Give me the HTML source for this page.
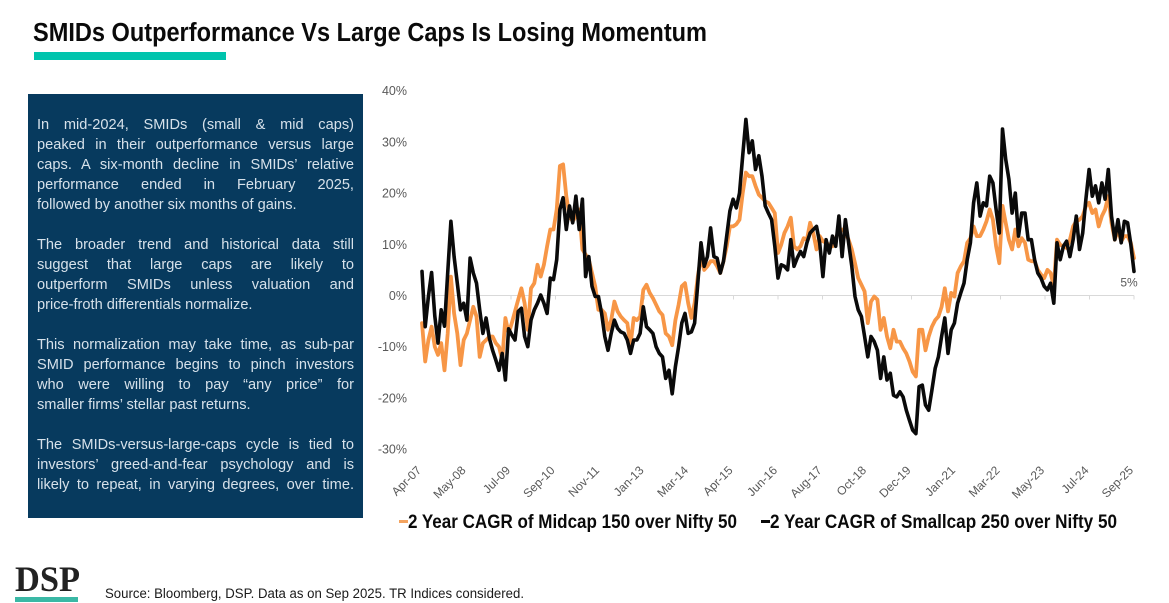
<!DOCTYPE html>
<html lang="en">
<head>
<meta charset="utf-8">
<title>SMIDs Outperformance Vs Large Caps Is Losing Momentum</title>
<style>
html,body{margin:0;padding:0;background:#fff;}
#page{position:relative;width:1169px;height:603px;overflow:hidden;background:#fff;font-family:"Liberation Sans",sans-serif;}
#page svg{position:absolute;left:0;top:0;}
#panel{position:absolute;left:28px;top:94px;width:335px;height:424px;background:#073a5e;}
.ln{position:absolute;left:37px;width:317px;height:20px;line-height:20px;font-size:14.6px;color:#d6e1ea;white-space:nowrap;text-align:justify;text-align-last:justify;}
.ln.l{text-align-last:left;}
</style>
</head>
<body>
<div id="page">
  <div id="panel"></div>
  <div>
    <div class="ln" style="top:115px">In mid-2024, SMIDs (small &amp; mid caps)</div>
    <div class="ln" style="top:135px">peaked in their outperformance versus large</div>
    <div class="ln" style="top:155px">caps. A six-month decline in SMIDs’ relative</div>
    <div class="ln" style="top:175px">performance ended in February 2025,</div>
    <div class="ln l" style="top:195px">followed by another six months of gains.</div>
  </div>
  <div>
    <div class="ln" style="top:235px">The broader trend and historical data still</div>
    <div class="ln" style="top:255px">suggest that large caps are likely to</div>
    <div class="ln" style="top:275px">outperform SMIDs unless valuation and</div>
    <div class="ln l" style="top:295px">price-froth differentials normalize.</div>
  </div>
  <div>
    <div class="ln" style="top:335px">This normalization may take time, as sub-par</div>
    <div class="ln" style="top:355px">SMID performance begins to pinch investors</div>
    <div class="ln" style="top:375px">who were willing to pay “any price” for</div>
    <div class="ln l" style="top:395px">smaller firms’ stellar past returns.</div>
  </div>
  <div>
    <div class="ln" style="top:435px">The SMIDs-versus-large-caps cycle is tied to</div>
    <div class="ln" style="top:455px">investors’ greed-and-fear psychology and is</div>
    <div class="ln" style="top:475px">likely to repeat, in varying degrees, over time.</div>
  </div>

  <svg id="chart" width="1169" height="603" viewBox="0 0 1169 603">
    <text x="33" y="41" font-family="'Liberation Sans',sans-serif" font-weight="700" font-size="25.5" fill="#0a0a0a" textLength="674" lengthAdjust="spacingAndGlyphs">SMIDs Outperformance Vs Large Caps Is Losing Momentum</text>
    <rect x="34" y="52" width="192" height="8" fill="#00c4ad"></rect>

    <g id="y-axis"></g>
    <g id="x-axis"></g>
    <path id="line-mid" fill="none" stroke="#f79646" stroke-width="3.8" stroke-linejoin="round" stroke-linecap="round"></path>
    <path id="line-small" fill="none" stroke="#0a0a0a" stroke-width="3.6" stroke-linejoin="round" stroke-linecap="round"></path>
    <text id="end-label" text-anchor="middle" font-size="12" fill="#595959"></text>

    <g>
      <g>
        <rect x="399" y="520" width="9" height="3" fill="#f4a460"></rect>
        <text x="408" y="528" font-weight="700" font-size="19" fill="#0a0a0a" textLength="329" lengthAdjust="spacingAndGlyphs">2 Year CAGR of Midcap 150 over Nifty 50</text>
      </g>
      <g>
        <rect x="761" y="520" width="9" height="3" fill="#0a0a0a"></rect>
        <text x="770" y="528" font-weight="700" font-size="19" fill="#0a0a0a" textLength="347" lengthAdjust="spacingAndGlyphs">2 Year CAGR of Smallcap 250 over Nifty 50</text>
      </g>
    </g>

    <g>
      <text x="15" y="591" font-family="'Liberation Serif',serif" font-weight="700" font-size="36" fill="#222222" textLength="65" lengthAdjust="spacingAndGlyphs">DSP</text>
      <rect x="15" y="597" width="63" height="5" fill="#3ab8a5"></rect>
    </g>
    <text x="105" y="598" font-size="13.5" fill="#1a1a1a" textLength="419" lengthAdjust="spacingAndGlyphs">Source: Bloomberg, DSP. Data as on Sep 2025. TR Indices considered.</text>
  </svg>
</div>

<script>
// Category tick labels along the x axis
const xTickLabels = ["Apr-07","May-08","Jul-09","Sep-10","Nov-11","Jan-13","Mar-14","Apr-15","Jun-16","Aug-17","Oct-18","Dec-19","Jan-21","Mar-22","May-23","Jul-24","Sep-25"];
// Value-axis ticks, in percent
const yTickValues = [40,30,20,10,0,-10,-20,-30];
// 2 Year CAGR of Midcap 150 over Nifty 50, percent, evenly spaced samples from Apr-07 to Sep-25
const midcapValues = [
-5.4,-12.9,-8.7,-6.1,-10,-11.6,-9.3,-14.6,-7.4,3.7,-3.5,-7.4,-13.6,-8.7,-7.4,-4.8,-2.2,-4.1,-12,-9.3,
-8.7,-8,-8,-9.3,-10,-12.6,-4.4,-7.4,-5.4,-3.1,-0.8,1.4,-1.5,-6.7,1.4,2.4,6,3.7,6,9.6,
12.9,12.9,16.8,25.3,25.6,19.4,15.5,14.5,15.5,16.8,9,8,7,4.4,1.8,-2.8,-2.8,-3.5,-6.7,-4.8,
-1.2,-3.1,-4.1,-4.8,-5.4,-9.7,-4.4,-4.8,-4.1,1.1,2.1,0.5,-0.5,-1.8,-3.1,-3.8,-7.4,-8,-9.7,-4.8,
-1.8,1.8,2.4,-1.5,-4.4,-1.5,3.7,7.6,5,5.7,6.7,6.7,5.7,4.4,6.7,9.6,13.5,13.5,13.9,14.8,
20,24,23.3,23.3,21.4,19.7,19.1,18.4,18.1,17.1,16.1,8.3,9.9,12.2,13.5,15.2,9.6,9,9.6,11.2,
10.9,14.2,12.2,9,11.6,10.6,10.3,9.9,9.6,10.9,12.9,12.9,12.2,10.9,9,6.3,3.4,2.1,0.8,-5.4,
-1.2,-0.2,-0.8,-6.7,-4.4,-8,-10.3,-6.7,-9,-9,-10.3,-11.3,-12.9,-14.9,-15.8,-6.7,-6.7,-10.7,-8,-6.1,
-4.8,-4.1,-2.2,1.4,-3.1,0.5,-0.2,4.4,5.7,6.7,10.3,11.2,13.5,11.6,11.6,12.9,14.5,16.8,14.8,9.6,
6.3,17.5,14.2,10.9,9,12.9,9.6,11.2,10.3,7,6.7,6.7,5,4.1,3.4,5,4.4,1.8,10.9,9.9,
9.6,9.3,10.9,13.5,14.5,14.8,15.5,17.5,18.1,16.1,16.8,13.5,15.5,16.8,19.4,14.2,10.9,12.9,10.6,11.6,
11.6,10.3,7.3];
// 2 Year CAGR of Smallcap 250 over Nifty 50, percent, evenly spaced samples from Apr-07 to Sep-25
const smallcapValues = [
4.7,-6.1,-0.2,4.5,-4,-9.3,-2.8,-6,4.4,14.5,7.6,2.4,-2.8,-1.5,-4.8,7.3,4.4,2.4,-2.8,-7.4,
-4.4,-8.4,-10.7,-12.6,-14.6,-11.3,-16.5,-6.5,-7.7,-8.7,-3.1,-2.5,-8,-10,-4.8,-2.8,-1.5,0.1,-1.5,-3.5,
3.4,3.1,7,16.8,19.1,12.9,17.5,14.2,19.4,12.9,18.8,3.7,7.6,1.8,-0.2,-0.2,-3.5,-8,-10.7,-7.4,
-4.8,-6.4,-7.1,-7.4,-8.7,-11.3,-8.7,-8.7,-7.4,-2.2,-6.1,-6.7,-7.4,-10,-11.3,-12,-16.2,-14.6,-19.2,-13.9,
-10,-5.4,-3.5,-7.4,-7.1,-5.4,2.4,10.3,5.7,7.6,13.2,7.6,7.3,4.4,6.7,11.6,16.5,18.8,17.1,20,
27.3,34.4,27.9,30.2,24.6,27.3,23.3,17.5,16.1,14.8,9.6,3.4,6,5.7,5,10.9,5.7,7.3,8.6,7.6,
10.3,12.2,12.9,13.5,10.3,3.7,10.9,8.3,11.6,9.6,15.5,7.6,14.8,10.3,5.7,-0.2,-2.8,-4.1,-8,-12,
-8,-9,-10.7,-16.2,-12,-16.5,-15.2,-19.5,-19.8,-18.8,-19.8,-22.4,-24.4,-26.3,-27,-17.8,-17.5,-21.4,-22.4,-18.5,
-14.2,-12,-8,-4.4,-11.3,-6.7,-5.4,-1.5,0.5,2.4,7,10.3,18.1,22,15.5,18.1,17.5,23.3,22,16.8,
12.2,32.5,26.6,22.7,16.1,20,11.6,16.1,16.1,10.9,10.9,7,4.4,3.4,1.8,1.1,2.4,-1.5,10.3,7,
9.6,10.6,7.6,10.9,15.5,9,12.2,18.8,24.6,19.4,21.4,18.1,22,18.8,24.6,15.5,10.9,14.8,10.3,14.5,
14.2,10,4.7];
const lastValueLabel = "5%";

const SVG_NS = 'http://www.w3.org/2000/svg';
const plot = { left: 422, right: 1134, zeroY: 295.5, pxPerPct: 5.12 };

function xForSample(i, count) {
  return plot.left + (plot.right - plot.left) * i / (count - 1);
}
function xForTick(i) {
  return plot.left + (plot.right - plot.left) * i / (xTickLabels.length - 1);
}
function yForValue(v) {
  return plot.zeroY - v * plot.pxPerPct;
}
function linePath(values) {
  return values.map(function (v, i) {
    return (i ? 'L' : 'M') + xForSample(i, values.length).toFixed(1) + ' ' + yForValue(v).toFixed(1);
  }).join('');
}

document.getElementById('line-mid').setAttribute('d', linePath(midcapValues));
document.getElementById('line-small').setAttribute('d', linePath(smallcapValues));

const yAxis = document.getElementById('y-axis');
yTickValues.forEach(function (v) {
  const t = document.createElementNS(SVG_NS, 'text');
  
  
  t.setAttribute('x', 407);
  t.setAttribute('y', yForValue(v) + 4.5);
  t.setAttribute('text-anchor', 'end');
  t.setAttribute('font-size', '12.5');
  t.setAttribute('fill', '#595959');
  t.textContent = v + '%';
  yAxis.appendChild(t);
});

const xAxis = document.getElementById('x-axis');
const baseline = document.createElementNS(SVG_NS, 'line');


baseline.setAttribute('x1', plot.left);
baseline.setAttribute('x2', plot.right);
baseline.setAttribute('y1', yForValue(0));
baseline.setAttribute('y2', yForValue(0));
baseline.setAttribute('stroke', '#d9d9d9');
baseline.setAttribute('stroke-width', '1');
xAxis.appendChild(baseline);

xTickLabels.forEach(function (label, i) {
  const x = xForTick(i);
  const tick = document.createElementNS(SVG_NS, 'line');
  
  
  tick.setAttribute('x1', x);
  tick.setAttribute('x2', x);
  tick.setAttribute('y1', yForValue(0));
  tick.setAttribute('y2', yForValue(0) + 4);
  tick.setAttribute('stroke', '#d9d9d9');
  xAxis.appendChild(tick);

  const t = document.createElementNS(SVG_NS, 'text');
  
  
  t.setAttribute('text-anchor', 'end');
  t.setAttribute('font-size', '12');
  t.setAttribute('fill', '#595959');
  t.setAttribute('transform', 'translate(' + x + ' 471) rotate(-45)');
  t.textContent = label;
  xAxis.appendChild(t);
});

const endLabel = document.getElementById('end-label');
endLabel.setAttribute('x', plot.right - 5);
endLabel.setAttribute('y', yForValue(smallcapValues[smallcapValues.length - 1]) + 15);
endLabel.textContent = lastValueLabel;

document.querySelectorAll('#chart text').forEach(function (el) {
  if (!el.getAttribute('font-family')) {
    el.setAttribute('font-family', "'Liberation Sans',sans-serif");
  }
});
</script>
</body>
</html>
